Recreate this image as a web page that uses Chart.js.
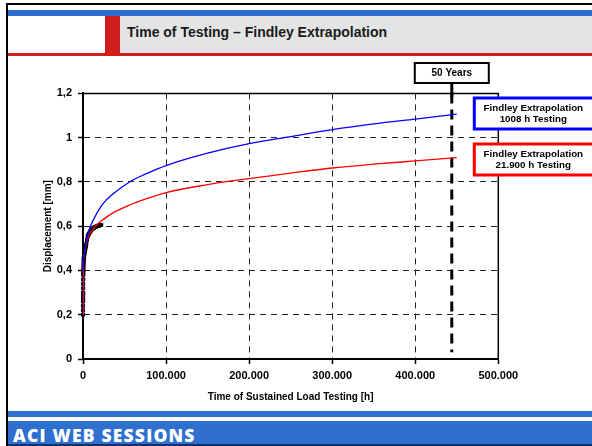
<!DOCTYPE html>
<html>
<head>
<meta charset="utf-8">
<script src="https://cdn.jsdelivr.net/npm/chart.js@4"></script>
<style>
  body { margin: 0; width: 592px; height: 446px; overflow: hidden; background: #fff; position: relative; font-family: "Liberation Sans", Arial, sans-serif; }
  .abs { position: absolute; }
  #frameLeft { left: 6px; top: 3px; width: 2px; height: 443px; background: #000; }
  #frameTop { left: 6px; top: 3px; width: 586px; height: 2px; background: #000; }
  #stripe { left: 8px; top: 10px; width: 584px; height: 6px; background: #2f6fcf; }
  #band { left: 8px; top: 16px; width: 584px; height: 37px; background: #e4e4e4; }
  #white { left: 8px; top: 16px; width: 97px; height: 37px; background: #fff; }
  #redbar { left: 105px; top: 16px; width: 15px; height: 37px; background: #d0201e; }
  #redline { left: 8px; top: 53px; width: 584px; height: 2.5px; background: #d0201e; }
  #title { left: 127px; top: 24px; font-size: 14px; font-weight: bold; color: #1a1a1a; }
  #footer { left: 8px; top: 411px; width: 584px; height: 35px; background: #2f6fcf; }
  #footline { left: 8px; top: 417px; width: 584px; height: 4px; background: #fff; }
  #footbottom { left: 8px; top: 444px; width: 584px; height: 2px; background: #10306a; }
  #foottext { left: 13px; top: 423px; font-family: "Open Sans", sans-serif; font-weight: 800; font-size: 17.5px; letter-spacing: 1.2px; color: #fff; }
  #wrap { left: 8px; top: 56px; width: 584px; height: 354px; }
</style>
</head>
<body>
<div class="abs" id="stripe"></div>
<div class="abs" id="band"></div>
<div class="abs" id="white"></div>
<div class="abs" id="redbar"></div>
<div class="abs" id="redline"></div>
<div class="abs" id="title">Time of Testing – Findley Extrapolation</div>
<div class="abs" id="footer"></div>
<div class="abs" id="footline"></div>
<div class="abs" id="footbottom"></div>
<div class="abs" id="foottext">ACI WEB SESSIONS</div>
<div class="abs" id="frameTop"></div>
<div class="abs" id="frameLeft"></div>
<div class="abs" id="wrap"><canvas id="chart" width="584" height="354"></canvas></div>
<script>
// Findley extrapolation, based on 1008 h testing (blue)
const blueTime = [0, 500, 2400, 5000, 8000, 14000, 23700, 36000, 56000, 75000, 100000, 150000, 200000, 250000, 300000, 350000, 400000, 450000];
const blueDisp = [0.40, 0.44, 0.49, 0.55, 0.59, 0.64, 0.70, 0.745, 0.80, 0.835, 0.874, 0.93, 0.973, 1.005, 1.036, 1.062, 1.084, 1.106];

// Findley extrapolation, based on 21.900 h testing (red)
const redTime = [0, 500, 2400, 6000, 12000, 17700, 25000, 36000, 54000, 75000, 100000, 150000, 200000, 250000, 300000, 350000, 400000, 450000];
const redDisp = [0.40, 0.44, 0.49, 0.55, 0.585, 0.61, 0.632, 0.66, 0.692, 0.722, 0.752, 0.788, 0.815, 0.84, 0.863, 0.88, 0.895, 0.91];

// short fit over the first hours (magenta)
const fitTime = [0, 100, 400, 1000];
const fitDisp = [0.20, 0.30, 0.40, 0.45];

// measured displacement
const testTime = [0, 20, 40, 60, 80, 100, 130, 160, 200, 250, 300, 350, 400, 450, 500, 600, 700, 800, 900, 1000, 1200, 1500,
  2000, 2500, 3000, 3500, 4000, 4800, 5600, 6300, 7000, 7800, 8500, 9200, 10000, 11000, 12000, 13000, 14000, 15000, 16000,
  17000, 18000, 19000, 20000, 21000, 21900];
const testDisp = [0.20, 0.22, 0.24, 0.26, 0.27, 0.28, 0.29, 0.30, 0.32, 0.34, 0.36, 0.38, 0.39, 0.40, 0.41, 0.42, 0.43, 0.44, 0.45, 0.455, 0.46, 0.47,
  0.48, 0.49, 0.50, 0.51, 0.52, 0.537, 0.553, 0.56, 0.565, 0.57, 0.575, 0.579, 0.583, 0.587, 0.59, 0.593, 0.595, 0.597, 0.598,
  0.60, 0.602, 0.603, 0.604, 0.605, 0.606];

const fiftyYears = 444000;
const fiftyLine = [1.2, 0.03];

const yTickLabels = ["0", "0,2", "0,4", "0,6", "0,8", "1", "1,2"];
const xTickLabels = ["0", "100.000", "200.000", "300.000", "400.000", "500.000"];

const pts = (xs, ys) => xs.map((x, i) => ({ x: x, y: ys[i] }));

Chart.defaults.font.family = "'Liberation Sans', Arial, sans-serif";
Chart.defaults.color = "#000";

const frame = {
  id: "frame",
  beforeDatasetsDraw(chart) {
    const { ctx, chartArea: a } = chart;
    ctx.save();
    ctx.strokeStyle = "#000";
    ctx.lineWidth = 1.5;
    ctx.beginPath();
    ctx.moveTo(a.left, a.top);
    ctx.lineTo(a.right, a.top);
    ctx.lineTo(a.right, a.bottom);
    ctx.stroke();
    ctx.restore();
  },
  afterDraw(chart) {
    const { ctx, chartArea: a } = chart;
    const x = chart.scales.x.getPixelForValue(fiftyYears);
    ctx.save();
    // 50 years box
    ctx.strokeStyle = "#000";
    ctx.lineWidth = 3;
    ctx.beginPath();
    ctx.moveTo(x, 27);
    ctx.lineTo(x, a.top + 4);
    ctx.stroke();
    ctx.lineWidth = 2;
    ctx.fillStyle = "#fff";
    ctx.fillRect(x - 37, 7, 74, 20);
    ctx.strokeRect(x - 37, 7, 74, 20);
    ctx.fillStyle = "#000";
    ctx.font = "bold 10px 'Liberation Sans', Arial, sans-serif";
    ctx.textAlign = "center";
    ctx.textBaseline = "middle";
    ctx.fillText("50 Years", x, 17.5);
    // labels for the two curves
    const boxes = [
      { top: 42, color: "#0000ff", lines: ["Findley Extrapolation", "1008 h Testing"] },
      { top: 88, color: "#ff0000", lines: ["Findley Extrapolation", "21.900 h Testing"] }
    ];
    const bx = a.right - 24;
    ctx.font = "bold 9.8px 'Liberation Sans', Arial, sans-serif";
    boxes.forEach(b => {
      ctx.fillStyle = "#fff";
      ctx.fillRect(bx, b.top, 130, 31);
      ctx.strokeStyle = b.color;
      ctx.lineWidth = 3;
      ctx.strokeRect(bx, b.top, 130, 31);
      ctx.fillStyle = "#000";
      ctx.fillText(b.lines[0], bx + 59, b.top + 10);
      ctx.fillText(b.lines[1], bx + 59, b.top + 21);
    });
    ctx.restore();
  }
};

new Chart(document.getElementById("chart"), {
  type: "scatter",
  data: {
    datasets: [
      {
        label: "Findley 1008 h",
        data: pts(blueTime, blueDisp),
        showLine: true,
        borderColor: "#0000ff",
        borderWidth: 1.3,
        pointRadius: 0,
        cubicInterpolationMode: "monotone",
        clip: false
      },
      {
        label: "Findley 21.900 h",
        data: pts(redTime, redDisp),
        showLine: true,
        borderColor: "#ff0000",
        borderWidth: 1.3,
        pointRadius: 0,
        cubicInterpolationMode: "monotone",
        clip: false
      },
      {
        label: "Fit",
        data: pts(fitTime, fitDisp),
        showLine: true,
        borderColor: "#b0106a",
        borderWidth: 1.5,
        pointRadius: 0,
        clip: false
      },
      {
        label: "Test",
        data: pts(testTime, testDisp),
        showLine: false,
        backgroundColor: "#000",
        borderColor: "#000",
        pointStyle: "rect",
        pointRadius: 2.2,
        clip: false
      },
      {
        label: "50 Years",
        data: fiftyLine.map(v => ({ x: fiftyYears, y: v })),
        showLine: true,
        borderColor: "#000",
        borderWidth: 3,
        borderDash: [10, 6],
        pointRadius: 0,
        clip: false
      }
    ]
  },
  options: {
    responsive: false,
    animation: false,
    devicePixelRatio: 1,
    layout: { padding: { left: 0, right: 93.7, top: 37.4, bottom: 0 } },
    plugins: {
      legend: { display: false },
      tooltip: { enabled: false }
    },
    scales: {
      x: {
        type: "linear",
        min: 0,
        max: 500000,
        afterFit: s => { s.height = 51; },
        ticks: {
          stepSize: 100000,
          padding: 5,
          font: { size: 11, weight: "bold" },
          callback: (v, i) => xTickLabels[i]
        },
        grid: {
          color: c => (c.tick && (c.tick.value === 0 || c.tick.value === 500000)) ? "rgba(0,0,0,0)" : "#222",
          tickColor: "#000",
          tickBorderDash: [],
          tickLength: 5,
          tickWidth: 1.5
        },
        border: { color: "#000", width: 2, dash: [6, 5] },
        title: {
          display: true,
          text: "Time of Sustained Load Testing [h]",
          font: { size: 10, weight: "bold" },
          padding: { top: 7, bottom: 7 }
        }
      },
      y: {
        min: 0,
        max: 1.2,
        afterFit: s => { s.width = 75; },
        ticks: {
          stepSize: 0.2,
          padding: 6,
          font: { size: 11, weight: "bold" },
          callback: (v, i) => yTickLabels[i]
        },
        grid: {
          color: c => (c.tick && (c.index === 0 || c.index === 6)) ? "rgba(0,0,0,0)" : "#222",
          tickColor: "#000",
          tickBorderDash: [],
          tickLength: 5,
          tickWidth: 1.5
        },
        border: { color: "#000", width: 2, dash: [6, 5] },
        title: {
          display: true,
          text: "Displacement [mm]",
          font: { size: 10, weight: "bold" },
          padding: { top: 34, bottom: 0 }
        }
      }
    }
  },
  plugins: [frame]
});
</script>
</body>
</html>
